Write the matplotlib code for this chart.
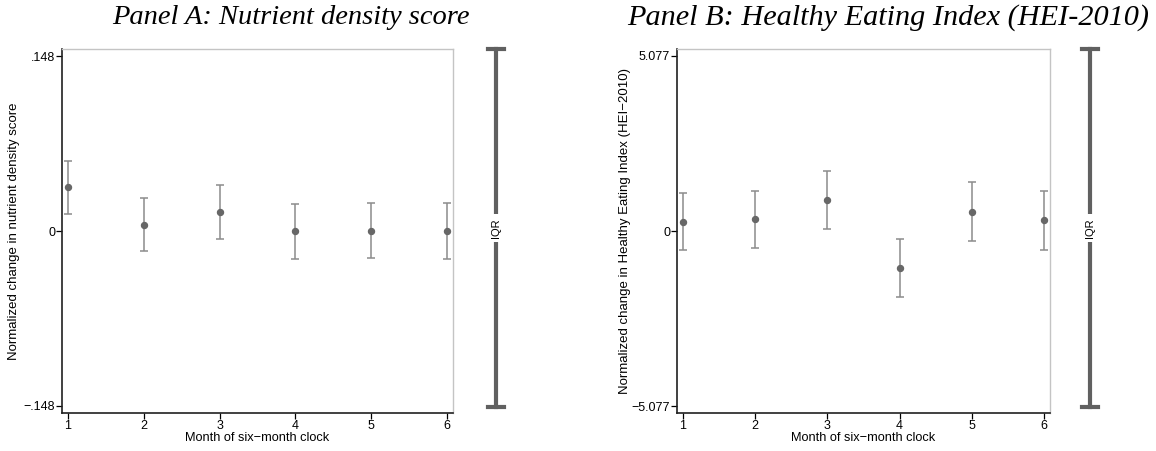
import matplotlib
matplotlib.use("Agg")
import matplotlib.pyplot as plt
from matplotlib.lines import Line2D

plt.rcParams['font.family'] = ['Liberation Sans', 'DejaVu Sans']

months = [1, 2, 3, 4, 5, 6]

# Panel A: nutrient density score
a_est = [0.0369, 0.0054, 0.0158, -0.0003, 0.0003, 0.0003]
a_lo = [0.0147, -0.0172, -0.0070, -0.0234, -0.0231, -0.0237]
a_hi = [0.0589, 0.0282, 0.0389, 0.0231, 0.0240, 0.0240]
a_ticks = [-0.148, 0, 0.148]
a_ticklabels = ["\u2212.148", "0", ".148"]

# Panel B: HEI-2010
b_est = [0.27, 0.34, 0.91, -1.07, 0.56, 0.31]
b_lo = [-0.56, -0.49, 0.07, -1.91, -0.29, -0.56]
b_hi = [1.09, 1.17, 1.74, -0.22, 1.41, 1.17]
b_ticks = [-5.077, 0, 5.077]
b_ticklabels = ["\u22125.077", "0", "5.077"]

W, H = 1156, 451
fig = plt.figure(figsize=(W / 100, H / 100), dpi=100)


def px_axes(l, r, t, b):
    return [l / W, 1 - b / H, (r - l) / W, (b - t) / H]


def panel(rect, est, lo, hi, ticks, labels, ylim, xlim, ylabel, ylab_x):
    ax = fig.add_axes(rect)
    yerr = [[e - l for e, l in zip(est, lo)], [h - e for e, h in zip(est, hi)]]
    ax.errorbar(months, est, yerr=yerr, fmt='o', color='#676767', ms=4.3,
                ecolor='#8c8c8c', elinewidth=1.1, capsize=2.6, capthick=1.1)
    ax.set_ylim(*ylim)
    ax.set_xlim(*xlim)
    ax.set_yticks(ticks)
    ax.set_yticklabels(labels)
    ax.set_xticks(months)
    ax.tick_params(axis='both', direction='out', length=4, width=0.9,
                   labelsize=9, pad=1)
    for s in ['top', 'right']:
        ax.spines[s].set_color('#c4c4c4')
        ax.spines[s].set_linewidth(1.0)
    for s in ['left', 'bottom']:
        ax.spines[s].set_color('#202020')
        ax.spines[s].set_linewidth(1.2)
    ax.set_xlabel("Month of six\u2212month clock", fontsize=9.2, labelpad=0)
    ax.set_ylabel(ylabel, fontsize=9.5, va='center')
    ax.yaxis.set_label_coords(ylab_x, 0.5)
    return ax


panel(px_axes(62, 453, 49, 413), a_est, a_lo, a_hi, a_ticks, a_ticklabels,
      (-0.154, 0.154), (0.921, 6.079),
      "Normalized change in nutrient density score", (14 - 62) / 391)
panel(px_axes(677, 1050, 49, 413), b_est, b_lo, b_hi, b_ticks, b_ticklabels,
      (-5.28, 5.28), (0.917, 6.083),
      "Normalized change in Healthy Eating Index (HEI\u22122010)", (625 - 677) / 373)


def iqr_bar(xpx, top, bot):
    x = xpx / W
    y0, y1 = 1 - bot / H, 1 - top / H
    c = '#606060'
    fig.add_artist(Line2D([x, x], [y0, y1], transform=fig.transFigure,
                          color=c, lw=3))
    cw = 8 / W
    for y in (y0, y1):
        fig.add_artist(Line2D([x - cw, x + cw], [y, y], transform=fig.transFigure,
                              color=c, lw=3))
    fig.text(x, (y0 + y1) / 2, "IQR", rotation=90, ha='center', va='center',
             fontsize=8, bbox=dict(facecolor='white', edgecolor='none', pad=3))


iqr_bar(496, 49, 407)
iqr_bar(1090, 49, 407)

fig.text(291 / W, 1 - 18 / H, "Panel A: Nutrient density score",
         family='Liberation Serif', style='italic', fontsize=20.5,
         ha='center', va='center')
fig.text(888 / W, 1 - 18 / H, "Panel B: Healthy Eating Index (HEI-2010)",
         family='Liberation Serif', style='italic', fontsize=21.8,
         ha='center', va='center')

fig.savefig("out.png", dpi=100)
